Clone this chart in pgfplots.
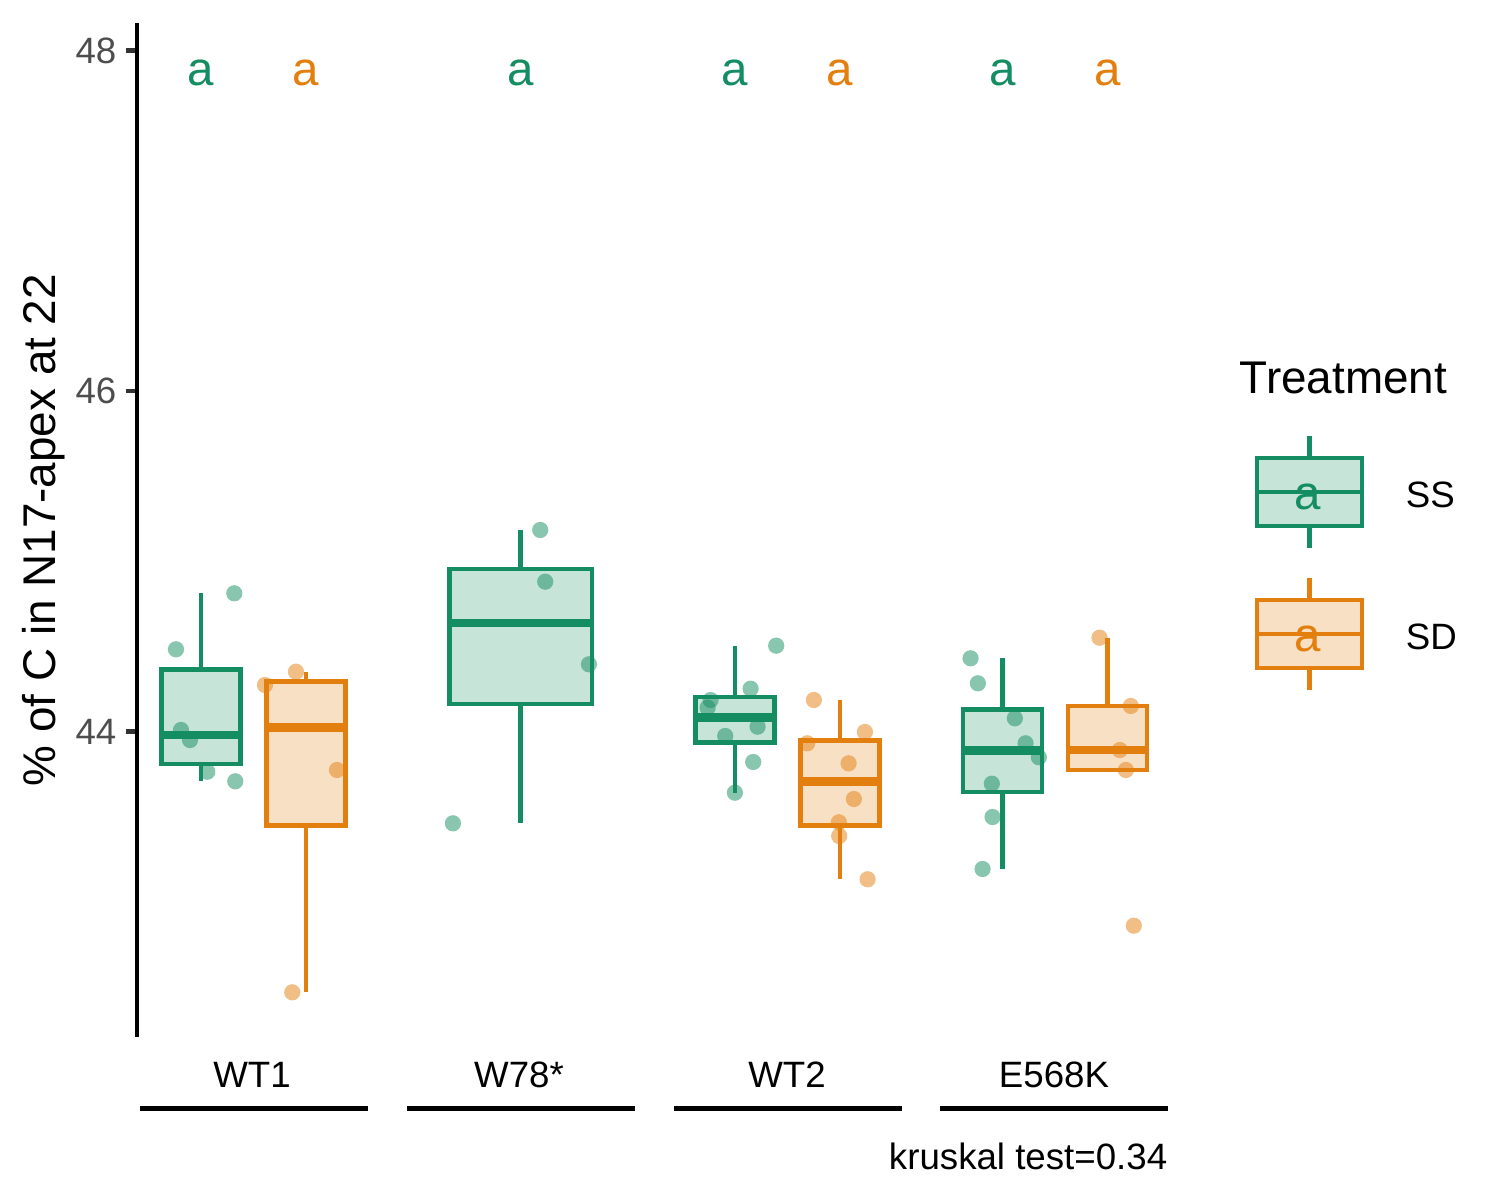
\documentclass[border=0pt]{standalone}
\usepackage{fontspec}
\setmainfont{Liberation Sans}
\usepackage{pgfplots}
\pgfplotsset{compat=1.18}
\usepgfplotslibrary{statistics}
\definecolor{ssc}{RGB}{20,141,98}
\definecolor{sdc}{RGB}{227,127,14}
\colorlet{ssfill}{ssc!24!white}
\colorlet{sdfill}{sdc!24!white}
\definecolor{gray20}{HTML}{333333}
\definecolor{gray30}{HTML}{4D4D4D}
\newcommand{\tickfont}{\fontsize{8.8}{10.5}\selectfont}
\newcommand{\titlefont}{\fontsize{11}{13}\selectfont}
\newcommand{\letfont}{\fontsize{11.4}{13.5}\selectfont}

\pgfplotsset{
  boxplot/draw direction=y,
  boxplot/draw/whisker/.code 2 args={\draw[/pgfplots/boxplot/every whisker/.try] (boxplot cs:#1) -- (boxplot cs:#2);},
  ssbox/.style={color=ssc, draw=ssc, line width=1.07pt, mark=none,
    boxplot/every box/.style={fill=ssfill},
    boxplot/every median/.style={line width=2.13pt}},
  sdbox/.style={color=sdc, draw=sdc, line width=1.07pt, mark=none,
    boxplot/every box/.style={fill=sdfill},
    boxplot/every median/.style={line width=2.13pt}},
  sspts/.style={only marks, color=ssc, mark=*, mark size=1.95pt, mark options={draw opacity=0, line width=0pt, fill=ssc, fill opacity=0.5}},
  sdpts/.style={only marks, color=sdc, mark=*, mark size=1.95pt, mark options={draw opacity=0, line width=0pt, fill=sdc, fill opacity=0.5}},
}

\pgfplotstableread{
x y
0.7158 44.4828
0.9339 44.8117
0.7346 44.0088
0.7683 43.9500
0.8329 43.7639
0.9376 43.7075
2.0782 45.1836
2.0969 44.8799
2.2604 44.3947
1.7517 43.4608
2.9608 44.5040
2.8651 44.2514
2.7155 44.1850
2.7043 44.1398
2.8912 44.0282
2.7701 43.9736
2.8748 43.8209
2.8064 43.6405
3.6878 44.4300
3.7151 44.2831
3.8535 44.0775
3.8935 43.9307
3.9432 43.8485
3.7674 43.6934
3.7700 43.4978
3.7327 43.1924
}\sspoints

\pgfplotstableread{
x y
1.1646 44.3512
1.0487 44.2731
1.3179 43.7739
1.1508 42.4681
3.1018 44.1850
3.2925 43.9971
3.0767 43.9307
3.2316 43.8132
3.2514 43.6035
3.1953 43.4667
3.1964 43.3862
3.3026 43.1319
4.1702 44.5510
4.2873 44.1498
4.2462 43.8913
4.2686 43.7739
4.2985 42.8593
}\sdpoints

\begin{document}
\begin{tikzpicture}
\begin{scope}[x=0.24pt,y=-0.24pt]
  \path (0,0) rectangle (1500,1200);
\end{scope}
\begin{axis}[
  at={(32.88pt,-248.88pt)}, anchor=south west,
  scale only axis, width=247.68pt, height=243.36pt,
  xmin=0.57, xmax=4.43, ymin=42.2056, ymax=48.1615,
  axis x line=none, axis y line*=left,
  ytick={44,46,48},
  tick align=outside, major tick length=2.75pt,
  y axis line style={line width=1.07pt, black},
  ytick style={line width=1.07pt, color=gray20},
  yticklabel style={font=\tickfont, text=gray30, inner xsep=2pt},
  /pgf/number format/assume math mode=true,
  clip=false,
]
% boxes SS
\addplot[ssbox, boxplot prepared={draw position=0.8093, box extend=0.296,
  lower whisker=43.7075, lower quartile=43.8104, median=43.9794,
  upper quartile=44.3643, upper whisker=44.8117}] coordinates {};
\addplot[ssbox, boxplot prepared={draw position=2.005, box extend=0.534,
  lower whisker=43.4608, lower quartile=44.1612, median=44.6373,
  upper quartile=44.9558, upper whisker=45.1836}] coordinates {};
\addplot[ssbox, boxplot prepared={draw position=2.8064, box extend=0.296,
  lower whisker=43.6405, lower quartile=43.9354, median=44.0840,
  upper quartile=44.2016, upper whisker=44.5040}] coordinates {};
\addplot[ssbox, boxplot prepared={draw position=3.8067, box extend=0.296,
  lower whisker=43.1924, lower quartile=43.6445, median=43.8896,
  upper quartile=44.1289, upper whisker=44.4300}] coordinates {};
% boxes SD
\addplot[sdbox, boxplot prepared={draw position=1.2020, box extend=0.296,
  lower whisker=42.4681, lower quartile=43.4475, median=44.0235,
  upper quartile=44.2925, upper whisker=44.3512}] coordinates {};
\addplot[sdbox, boxplot prepared={draw position=3.2000, box extend=0.296,
  lower whisker=43.1319, lower quartile=43.4466, median=43.7084,
  upper quartile=43.9473, upper whisker=44.1850}] coordinates {};
\addplot[sdbox, boxplot prepared={draw position=4.1994, box extend=0.296,
  lower whisker=43.7739, lower quartile=43.7739, median=43.8913,
  upper quartile=44.1498, upper whisker=44.5510}] coordinates {};
% jitter points
\addplot[sspts] table[x=x,y=y] {\sspoints};
\addplot[sdpts] table[x=x,y=y] {\sdpoints};
% letters
\node[anchor=base, text=ssc, font=\letfont, inner sep=0pt] at (axis cs:0.8093,47.7915) {a};
\node[anchor=base, text=sdc, font=\letfont, inner sep=0pt] at (axis cs:1.2020,47.7915) {a};
\node[anchor=base, text=ssc, font=\letfont, inner sep=0pt] at (axis cs:2.005,47.7915) {a};
\node[anchor=base, text=ssc, font=\letfont, inner sep=0pt] at (axis cs:2.8064,47.7915) {a};
\node[anchor=base, text=sdc, font=\letfont, inner sep=0pt] at (axis cs:3.2000,47.7915) {a};
\node[anchor=base, text=ssc, font=\letfont, inner sep=0pt] at (axis cs:3.8067,47.7915) {a};
\node[anchor=base, text=sdc, font=\letfont, inner sep=0pt] at (axis cs:4.1994,47.7915) {a};
\end{axis}

\begin{scope}[x=0.24pt,y=-0.24pt]
  % y label
  \node[rotate=90, anchor=base, font=\titlefont, inner sep=0pt] at (55,530) {\% of C in N17-apex at 22};
  % x labels
  \foreach \xx/\lab in {252/WT1, 519/W78*, 787/WT2, 1054/E568K}{
    \node[anchor=base, font=\tickfont, inner sep=0pt] at (\xx,1087) {\lab};
  }
  \foreach \a/\b in {140/368, 407/635, 674/902, 940/1168}{
    \draw[line width=1.07pt] (\a,1108.5) -- (\b,1108.5);
  }
  % caption
  \node[anchor=base east, font=\tickfont, inner sep=0pt] at (1168,1169) {kruskal test=0.34};
  % legend
  \node[anchor=base west, font=\titlefont, inner sep=0pt] at (1239,393) {Treatment};
  % SS key
  \draw[ssc, line width=1.07pt] (1309.5,436) -- (1309.5,458);
  \draw[ssc, line width=1.07pt] (1309.5,526) -- (1309.5,548);
  \draw[ssc, fill=ssfill, line width=1.07pt] (1257,458) rectangle (1362,526);
  \draw[ssc, line width=1.07pt] (1257,492) -- (1362,492);
  \node[anchor=base, text=ssc, font=\letfont, inner sep=0pt] at (1308,509) {a};
  \node[anchor=base west, font=\tickfont, inner sep=0pt] at (1405,507) {SS};
  % SD key
  \draw[sdc, line width=1.07pt] (1309.5,578) -- (1309.5,600);
  \draw[sdc, line width=1.07pt] (1309.5,668) -- (1309.5,690);
  \draw[sdc, fill=sdfill, line width=1.07pt] (1257,600) rectangle (1362,668);
  \draw[sdc, line width=1.07pt] (1257,634) -- (1362,634);
  \node[anchor=base, text=sdc, font=\letfont, inner sep=0pt] at (1308,651) {a};
  \node[anchor=base west, font=\tickfont, inner sep=0pt] at (1405,649) {SD};
\end{scope}
\end{tikzpicture}
\end{document}
